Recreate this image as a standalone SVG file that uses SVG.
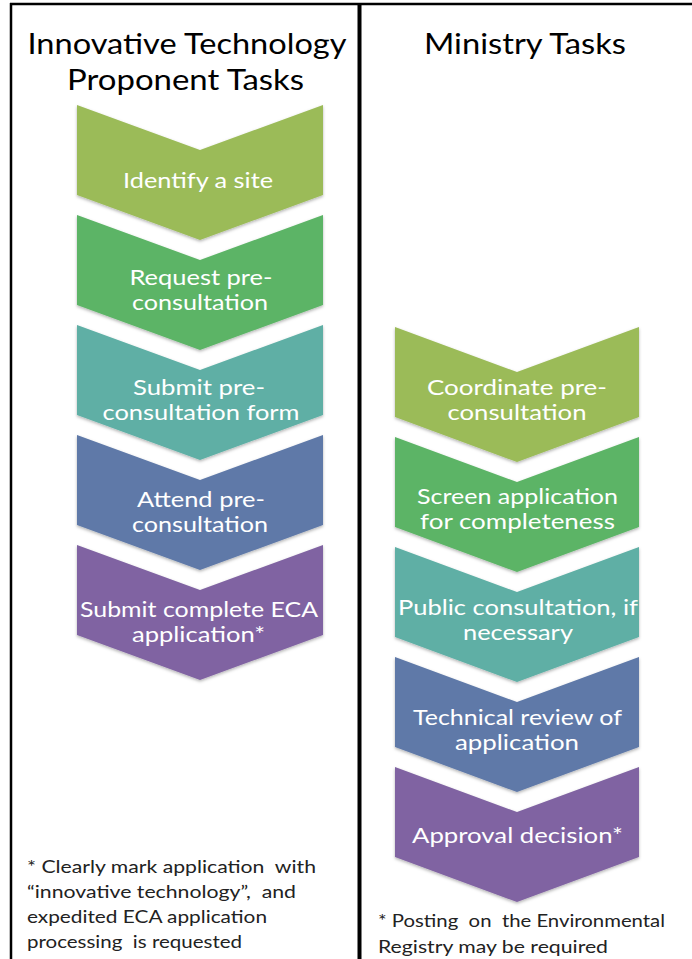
<svg xmlns="http://www.w3.org/2000/svg" width="692" height="959" viewBox="0 0 692 959">
<defs>
<filter id="sh" x="-10%" y="-10%" width="120%" height="120%">
<feDropShadow dx="0" dy="1.5" stdDeviation="1.5" flood-color="#000" flood-opacity="0.3"/>
</filter>
<path id="chevL" d="M0,0 L123,45 L246,0 L246,90 L123,135 L0,90 Z"/>
<path id="chevR" d="M0,0 L122,45 L244,0 L244,90 L122,135 L0,90 Z"/>
</defs>
<style>
text{font-family:Lato,"Liberation Sans",sans-serif}
.hdr{font-size:28px;fill:#000;text-anchor:middle}
.lbl{font-size:20.5px;fill:#fff;text-anchor:middle}
.note{font-size:17px;fill:#222}
.c1{fill:#9BBB59}.c2{fill:#5CB466}.c3{fill:#5EAFA5}.c4{fill:#5F79A8}.c5{fill:#8064A2}
.frame{stroke:#000;fill:none}
</style>
<rect width="692" height="959" fill="#fff"/>
<g id="frame">
<line class="frame" x1="10" y1="4" x2="692" y2="4" stroke-width="2.5"/>
<line class="frame" x1="11" y1="3" x2="11" y2="959" stroke-width="2.5"/>
<line class="frame" x1="359.5" y1="3" x2="359.5" y2="959" stroke-width="4"/>
</g>
<g id="headers">
<text class="hdr" x="187" y="54" textLength="319" lengthAdjust="spacingAndGlyphs">Innovative Technology</text>
<text class="hdr" x="185.5" y="90" textLength="237" lengthAdjust="spacingAndGlyphs">Proponent Tasks</text>
<text class="hdr" x="525" y="54" textLength="202" lengthAdjust="spacingAndGlyphs">Ministry Tasks</text>
</g>
<g id="connectors"></g>
<g id="left-1"><use href="#chevL" x="77" y="105" class="c1" filter="url(#sh)"/><text class="lbl" x="198" y="188" textLength="150" lengthAdjust="spacingAndGlyphs">Identify a site</text></g>
<g id="left-2"><use href="#chevL" x="77" y="215" class="c2" filter="url(#sh)"/><text class="lbl" x="201" y="285" textLength="143" lengthAdjust="spacingAndGlyphs">Request pre-</text><text class="lbl" x="200" y="310" textLength="136" lengthAdjust="spacingAndGlyphs">consultation</text></g>
<g id="left-3"><use href="#chevL" x="77" y="325" class="c3" filter="url(#sh)"/><text class="lbl" x="199" y="395" textLength="132" lengthAdjust="spacingAndGlyphs">Submit pre-</text><text class="lbl" x="201" y="420" textLength="197" lengthAdjust="spacingAndGlyphs">consultation form</text></g>
<g id="left-4"><use href="#chevL" x="77" y="435" class="c4" filter="url(#sh)"/><text class="lbl" x="201" y="507" textLength="128" lengthAdjust="spacingAndGlyphs">Attend pre-</text><text class="lbl" x="200" y="532" textLength="136" lengthAdjust="spacingAndGlyphs">consultation</text></g>
<g id="left-5"><use href="#chevL" x="77" y="545" class="c5" filter="url(#sh)"/><text class="lbl" x="199" y="617" textLength="238" lengthAdjust="spacingAndGlyphs">Submit complete ECA</text><text class="lbl" x="198.5" y="642" textLength="133" lengthAdjust="spacingAndGlyphs">application*</text></g>
<g id="right-1"><use href="#chevR" x="395" y="327" class="c1" filter="url(#sh)"/><text class="lbl" x="517" y="395" textLength="180" lengthAdjust="spacingAndGlyphs">Coordinate pre-</text><text class="lbl" x="517" y="420" textLength="139" lengthAdjust="spacingAndGlyphs">consultation</text></g>
<g id="right-2"><use href="#chevR" x="395" y="437" class="c2" filter="url(#sh)"/><text class="lbl" x="517.5" y="504" textLength="201" lengthAdjust="spacingAndGlyphs">Screen application</text><text class="lbl" x="517.5" y="529" textLength="195" lengthAdjust="spacingAndGlyphs">for completeness</text></g>
<g id="right-3"><use href="#chevR" x="395" y="547" class="c3" filter="url(#sh)"/><text class="lbl" x="518" y="615" textLength="240" lengthAdjust="spacingAndGlyphs">Public consultation, if</text><text class="lbl" x="518" y="640" textLength="110" lengthAdjust="spacingAndGlyphs">necessary</text></g>
<g id="right-4"><use href="#chevR" x="395" y="657" class="c4" filter="url(#sh)"/><text class="lbl" x="517.5" y="725" textLength="209" lengthAdjust="spacingAndGlyphs">Technical review of</text><text class="lbl" x="517" y="750" textLength="124" lengthAdjust="spacingAndGlyphs">application</text></g>
<g id="right-5"><use href="#chevR" x="395" y="767" class="c5" filter="url(#sh)"/><text class="lbl" x="517.5" y="843" textLength="211" lengthAdjust="spacingAndGlyphs">Approval decision*</text></g>
<g id="notes">
<text class="note" x="27" y="873" xml:space="preserve" textLength="289" lengthAdjust="spacingAndGlyphs">* Clearly mark application  with</text>
<text class="note" x="27" y="898" xml:space="preserve" textLength="269" lengthAdjust="spacingAndGlyphs">“innovative technology”,  and</text>
<text class="note" x="27" y="923" textLength="240" lengthAdjust="spacingAndGlyphs">expedited ECA application</text>
<text class="note" x="27" y="948" xml:space="preserve" textLength="215" lengthAdjust="spacingAndGlyphs">processing  is requested</text>
<text class="note" x="378" y="927" xml:space="preserve" textLength="287" lengthAdjust="spacingAndGlyphs">* Posting  on  the Environmental</text>
<text class="note" x="378" y="953" textLength="230" lengthAdjust="spacingAndGlyphs">Registry may be required</text>
</g>
</svg>
